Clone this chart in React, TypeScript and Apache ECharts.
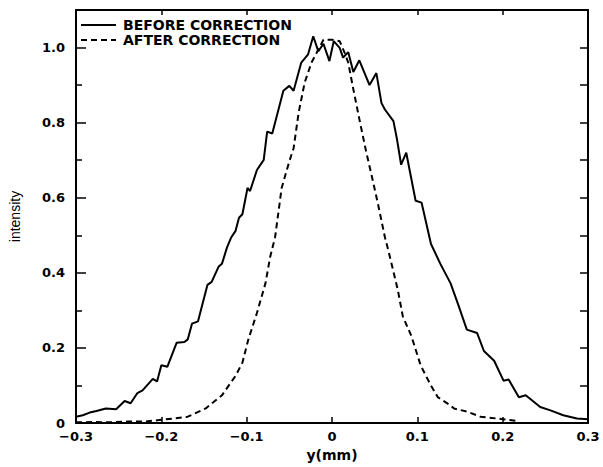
import React, { useEffect, useRef } from "react";
import * as echarts from "echarts";

const seriesNames = ["BEFORE CORRECTION", "AFTER CORRECTION"];

const xBefore = [
  -0.3, -0.292, -0.284, -0.276, -0.265, -0.253, -0.243, -0.236, -0.228, -0.222,
  -0.21, -0.205, -0.2, -0.193, -0.182, -0.173, -0.169, -0.164, -0.157, -0.146,
  -0.141, -0.133, -0.129, -0.123, -0.118, -0.113, -0.109, -0.105, -0.099, -0.096,
  -0.088, -0.08, -0.076, -0.07, -0.057, -0.05, -0.045, -0.036, -0.028, -0.022,
  -0.016, -0.01, -0.003, 0.002, 0.009, 0.013, 0.019, 0.025, 0.032, 0.044,
  0.052, 0.058, 0.062, 0.072, 0.076, 0.081, 0.087, 0.098, 0.105, 0.116,
  0.127, 0.139, 0.148, 0.158, 0.17, 0.178, 0.19, 0.201, 0.207, 0.219,
  0.227, 0.244, 0.256, 0.271, 0.287, 0.3,
];
const yBefore = [
  0.017, 0.021, 0.028, 0.032, 0.039, 0.037, 0.059, 0.053, 0.08, 0.087,
  0.118, 0.111, 0.154, 0.15, 0.214, 0.216, 0.223, 0.265, 0.271, 0.368,
  0.376, 0.416, 0.424, 0.468, 0.495, 0.512, 0.547, 0.556, 0.626, 0.618,
  0.674, 0.701, 0.776, 0.771, 0.885, 0.898, 0.885, 0.96, 0.982, 1.03,
  0.99, 1.01, 0.964, 1.017, 0.999, 0.973, 0.988, 0.935, 0.966, 0.9,
  0.932, 0.852, 0.835, 0.804, 0.758, 0.688, 0.72, 0.592, 0.587, 0.477,
  0.424, 0.372, 0.315, 0.249, 0.24, 0.192, 0.166, 0.113, 0.116, 0.069,
  0.074, 0.043, 0.034, 0.021, 0.012, 0.01,
];

const xAfter = [
  -0.3, -0.28, -0.26, -0.24, -0.22, -0.203, -0.187, -0.169, -0.148, -0.129,
  -0.113, -0.105, -0.098, -0.088, -0.078, -0.0725, -0.0667, -0.059, -0.05, -0.045,
  -0.039, -0.032, -0.024, -0.018, -0.01, 0.0, 0.009, 0.015, 0.019, 0.025,
  0.032, 0.04, 0.048, 0.054, 0.062, 0.066, 0.077, 0.083, 0.093, 0.104,
  0.116, 0.124, 0.139, 0.143, 0.159, 0.174, 0.198, 0.215,
];
const yAfter = [
  0.002, 0.003, 0.002, 0.004, 0.004, 0.008, 0.012, 0.017, 0.039, 0.074,
  0.126, 0.161, 0.223, 0.293, 0.372, 0.442, 0.495, 0.626, 0.697, 0.732,
  0.828, 0.907, 0.96, 0.986, 1.021, 1.021, 1.017, 0.985, 0.96, 0.889,
  0.81, 0.723, 0.644, 0.582, 0.495, 0.46, 0.356, 0.284, 0.232, 0.153,
  0.1, 0.069, 0.047, 0.039, 0.03, 0.017, 0.011, 0.006,
];

const X_MIN = -0.3;
const X_MAX = 0.3;
const Y_MIN = 0;
const Y_MAX = 1.1;

const pairs = (xs: number[], ys: number[]) => xs.map((x, i) => [x, ys[i]]);

const fmtX = (v: number) => {
  if (Math.abs(v) < 1e-9) return "0";
  return v.toFixed(1).replace("-", "\u2212");
};
const fmtY = (v: number) => {
  if (Math.abs(v) < 1e-9) return "0";
  if (v > 1.05) return "";
  return v.toFixed(1);
};

const FONT = "DejaVu Sans, Verdana, sans-serif";

export default function App() {
  const ref = useRef<HTMLDivElement>(null);
  useEffect(() => {
    if (!ref.current) return;
    const chart = echarts.init(ref.current, undefined, { renderer: "svg" });
    const black = "#000";
    chart.setOption({
      animation: false,
      backgroundColor: "#fff",
      grid: { left: 73, right: 15, top: 10, bottom: 39, containLabel: false },
      legend: {
        orient: "vertical",
        left: 80,
        top: 18,
        padding: 0,
        itemWidth: 35,
        itemHeight: 14,
        itemGap: 1,
        itemStyle: { opacity: 0 },
        textStyle: { fontFamily: FONT, fontSize: 14, fontWeight: "bold", color: black, padding: [0, 0, 0, 2] },
        data: seriesNames,
      },
      xAxis: [
        {
          type: "value",
          position: "bottom",
          min: X_MIN,
          max: X_MAX,
          interval: 0.1,
          name: "y(mm)",
          nameLocation: "middle",
          nameGap: 24,
          nameTextStyle: { fontFamily: FONT, fontSize: 14, fontWeight: "bold", color: black },
          axisLine: { show: true, onZero: false, lineStyle: { color: black, width: 2 } },
          axisTick: { show: true, inside: true, length: 6, lineStyle: { color: black, width: 1.5 } },
          axisLabel: { formatter: fmtX, fontFamily: FONT, fontSize: 13, fontWeight: "bold", color: black, margin: 7 },
          splitLine: { show: false },
        },
        {
          type: "value",
          position: "top",
          min: X_MIN,
          max: X_MAX,
          interval: 0.1,
          axisLine: { show: true, onZero: false, lineStyle: { color: black, width: 2 } },
          axisTick: { show: true, inside: true, length: 5, lineStyle: { color: black, width: 1.5 } },
          axisLabel: { show: false },
          splitLine: { show: false },
        },
      ],
      yAxis: [
        {
          type: "value",
          position: "left",
          min: Y_MIN,
          max: Y_MAX,
          interval: 0.2,
          name: "intensity",
          nameLocation: "middle",
          nameGap: 54,
          nameRotate: 90,
          nameTextStyle: { fontFamily: "Liberation Sans Narrow, Liberation Sans, sans-serif", fontSize: 14, color: black },
          axisLine: { show: true, onZero: false, lineStyle: { color: black, width: 2 } },
          axisTick: { show: true, inside: true, length: 10, lineStyle: { color: black, width: 1.5 } },
          minorTick: { show: true, splitNumber: 2, length: 6, lineStyle: { color: black, width: 1.5 } },
          axisLabel: { formatter: fmtY, fontFamily: FONT, fontSize: 13, fontWeight: "bold", color: black, margin: 11, showMaxLabel: false },
          splitLine: { show: false },
          minorSplitLine: { show: false },
        },
        {
          type: "value",
          position: "right",
          min: Y_MIN,
          max: Y_MAX,
          interval: 0.1,
          axisLine: { show: true, onZero: false, lineStyle: { color: black, width: 2 } },
          axisTick: { show: true, inside: true, length: 8, lineStyle: { color: black, width: 1.5 } },
          axisLabel: { show: false },
          splitLine: { show: false },
        },
      ],
      series: [
        {
          name: seriesNames[0],
          type: "line",
          xAxisIndex: 0,
          yAxisIndex: 0,
          data: pairs(xBefore, yBefore),
          symbol: "none",
          lineStyle: { color: black, width: 2 },
          itemStyle: { color: black },
        },
        {
          name: seriesNames[1],
          type: "line",
          xAxisIndex: 0,
          yAxisIndex: 0,
          data: pairs(xAfter, yAfter),
          symbol: "none",
          lineStyle: { color: black, width: 2, type: [6, 4] },
          itemStyle: { color: black },
        },
      ],
    });
    return () => chart.dispose();
  }, []);
  return <div ref={ref} style={{ width: 603, height: 467, position: "absolute", left: 0, top: 0 }} />;
}
